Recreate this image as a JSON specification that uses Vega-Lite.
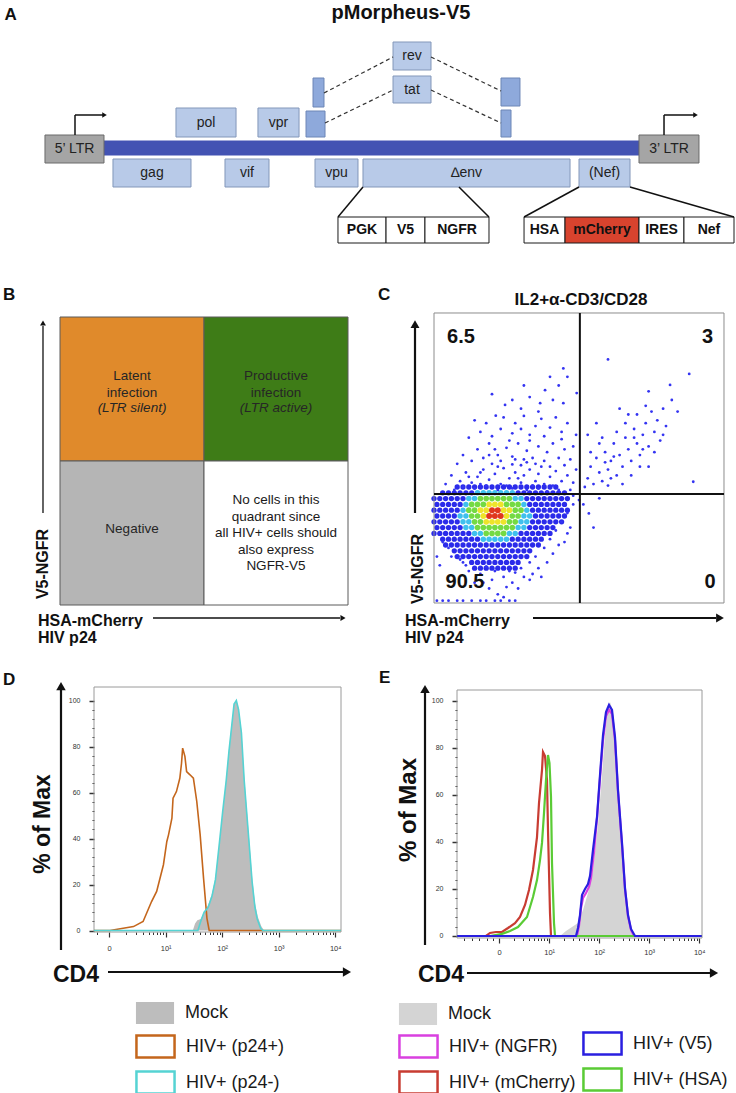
{
"$schema":"https://vega.github.io/schema/vega-lite/v6.json",
"background":"white",
"padding":0,
"spacing":0,
"config":{"view":{"stroke":null},"font":"Liberation Sans","concat":{"spacing":0}},
"resolve":{"scale":{"fill":"independent","stroke":"independent","color":"independent","size":"independent"},"legend":{"fill":"independent","stroke":"independent","color":"independent","size":"independent"}},
"datasets":{
"aBoxes":[
{"n":"","k":"bar","x":14.13,"x2":86.82,"y":38,"y2":43.6},
{"n":"5’ LTR","k":"ltr","x":6.11,"x2":14.13,"y":34.8,"y2":46},
{"n":"3’ LTR","k":"ltr","x":86.82,"x2":94.97,"y":34.8,"y2":46},
{"n":"pol","k":"gene","x":23.91,"x2":32.07,"y":45.2,"y2":56.8},
{"n":"vpr","k":"gene","x":35.05,"x2":40.63,"y":45.2,"y2":56.8},
{"n":"","k":"exon","x":41.58,"x2":44.16,"y":45.2,"y2":55.6},
{"n":"","k":"exon","x":42.53,"x2":44.02,"y":57.2,"y2":68.8},
{"n":"gag","k":"gene","x":15.35,"x2":25.95,"y":25.2,"y2":36.4},
{"n":"vif","k":"gene","x":30.57,"x2":36.55,"y":25.2,"y2":36.4},
{"n":"vpu","k":"gene","x":42.8,"x2":48.64,"y":25.2,"y2":36.4},
{"n":"∆env","k":"gene","x":49.32,"x2":77.45,"y":25.2,"y2":36.4},
{"n":"(Nef)","k":"gene","x":78.67,"x2":85.6,"y":25.2,"y2":36.4},
{"n":"rev","k":"gene","x":53.4,"x2":58.56,"y":72,"y2":83.2},
{"n":"tat","k":"gene","x":53.4,"x2":58.56,"y":58.8,"y2":69.6},
{"n":"","k":"exon","x":68.07,"x2":70.65,"y":57.6,"y2":68.8},
{"n":"","k":"exon","x":68.07,"x2":69.43,"y":45.2,"y2":56},
{"n":"PGK","k":"inset","x":45.92,"x2":52.45,"y":2.8,"y2":13.2},
{"n":"V5","k":"inset","x":52.45,"x2":57.74,"y":2.8,"y2":13.2},
{"n":"NGFR","k":"inset","x":57.74,"x2":66.44,"y":2.8,"y2":13.2},
{"n":"HSA","k":"inset","x":71.2,"x2":76.77,"y":2.8,"y2":13.2},
{"n":"mCherry","k":"red","x":76.77,"x2":86.82,"y":2.8,"y2":13.2},
{"n":"IRES","k":"inset","x":86.82,"x2":92.93,"y":2.8,"y2":13.2},
{"n":"Nef","k":"inset","x":92.93,"x2":99.73,"y":2.8,"y2":13.2}
],
"aSeg":[
{"k":"dash","x":44.02,"y":62.8,"x2":53.4,"y2":77.2},
{"k":"dash","x":58.56,"y":77.2,"x2":68.07,"y2":63.6},
{"k":"dash","x":44.16,"y":50.8,"x2":53.4,"y2":64},
{"k":"dash","x":58.56,"y":64,"x2":68.07,"y2":50.8},
{"k":"zoom","x":49.32,"y":25.2,"x2":45.92,"y2":13.2},
{"k":"zoom","x":62.36,"y":25.2,"x2":66.44,"y2":13.2},
{"k":"zoom","x":78.67,"y":25.2,"x2":71.2,"y2":13.2},
{"k":"zoom","x":85.6,"y":25.2,"x2":99.73,"y2":13.2},
{"k":"prom","x":10.19,"y":46,"x2":10.19,"y2":54},
{"k":"prom","x":10.19,"y":54,"x2":14.0,"y2":54},
{"k":"prom","x":90.22,"y":46,"x2":90.22,"y2":54},
{"k":"prom","x":90.22,"y":54,"x2":94.3,"y2":54}
],
"bQuad":[
{"q":"latent","x":0,"x2":1,"y":1,"y2":2,"l":["Latent","infection"],"i":"(LTR silent)"},
{"q":"productive","x":1,"x2":2,"y":1,"y2":2,"l":["Productive","infection"],"i":"(LTR active)"},
{"q":"negative","x":0,"x2":1,"y":0,"y2":1,"l":["Negative"]},
{"q":"none","x":1,"x2":2,"y":0,"y2":1,"l":["No cells in this","quadrant since","all HIV+ cells should","also express","NGFR-V5"]}
],
"cCore":[
{"y":40,"d":0,"x":[8,10,12,14,16,18,20,22,24,26,28,30,32,34,36,38,40,42]},
{"y":38,"d":0,"x":[3,5,7,9,11,13,29,31,33,35,37,39,41,43,45]},
{"y":36,"d":0,"x":[0,2,4,6,8,10,32,34,36,38,40,42,44,46]},
{"y":34,"d":0,"x":[1,3,5,7,9,33,35,37,39,41,43,45]},
{"y":32,"d":0,"x":[0,2,4,6,8,34,36,38,40,42,44,46]},
{"y":30,"d":0,"x":[1,3,5,7,35,37,39,41,43,45]},
{"y":28,"d":0,"x":[0,2,4,6,8,34,36,38,40,42,44]},
{"y":26,"d":0,"x":[1,3,5,7,9,33,35,37,39,41]},
{"y":24,"d":0,"x":[0,2,4,6,8,10,12,30,32,34,36,38,40]},
{"y":22,"d":0,"x":[3,5,7,9,11,13,15,27,29,31,33,35,37]},
{"y":20,"d":0,"x":[4,6,8,10,12,14,16,18,20,22,24,26,28,30,32,34,36]},
{"y":18,"d":0,"x":[7,9,11,13,15,17,19,21,23,25,27,29,31,33]},
{"y":16,"d":0,"x":[8,10,12,14,16,18,20,22,24,26,28,30,32]},
{"y":14,"d":0,"x":[13,15,17,19,21,23,25,27,29]},
{"y":12,"d":0,"x":[14,16,18,20,22,24,26,28]},
{"y":38,"d":1,"x":[15,17,19,21,23,25,27]},
{"y":36,"d":1,"x":[12,14,28,30]},
{"y":34,"d":1,"x":[11,31]},
{"y":32,"d":1,"x":[10,32]},
{"y":30,"d":1,"x":[9,11,31,33]},
{"y":28,"d":1,"x":[10,12,30,32]},
{"y":26,"d":1,"x":[11,13,29,31]},
{"y":24,"d":1,"x":[14,16,26,28]},
{"y":22,"d":1,"x":[17,19,21,23,25]},
{"y":36,"d":2,"x":[16,18,20,22,24,26]},
{"y":34,"d":2,"x":[13,15,17,25,27,29]},
{"y":32,"d":2,"x":[12,14,28,30]},
{"y":30,"d":2,"x":[13,15,27,29]},
{"y":28,"d":2,"x":[14,16,26,28]},
{"y":26,"d":2,"x":[15,17,19,21,23,25,27]},
{"y":24,"d":2,"x":[18,20,22,24]},
{"y":34,"d":3,"x":[19,21,23]},
{"y":32,"d":3,"x":[16,18,24,26]},
{"y":30,"d":3,"x":[17,25]},
{"y":28,"d":3,"x":[18,20,22,24]},
{"y":32,"d":4,"x":[20,22]},
{"y":30,"d":4,"x":[19,21,23]}
],
"cDots":[
{"g":"ul","x":[4,6,9,11,13,15,17,19,21,23,24,26,28,30,31,33,35,36,38,40,42,44,46,48,49,12,18,25,29,34,37,41,45,27,20,8,10,13,15,17,19,22,23,25,27,29,31,32,34,36,38,39,41,43,45,47,48,30,35,40,21,26,33,44,12,16,18,20,23,24,27,28,30,31,33,35,37,38,40,42,44,46,49,21.3,36,14,24.5,27,30,33,36.6,38.3,41,44.6,43,49.2,46,44.6,20,31,40,7,10,14,16,22,27,32,36,39,43,47,16,22,32,28,19],
"y":[41,44,42,45,41.5,43.5,46,42.5,44.5,41,46.5,43,45,41.5,44,46,42,44.5,41,43.5,45.5,42,44,41.5,46,43.5,40.5,40.5,43,40.5,47,40.5,47.5,47.8,48,48,51,49,53,50,55,51,49,53.5,50.5,55,49.5,52.5,50,54,49,52,55,50,53,49.5,54,47.5,48,47,53,56,56,56.5,57,59,62,57.5,60,64,58.5,62,60,64.5,58,61,63.5,57.5,60.5,64,59,62,58,64.6,66,63,68.3,70,67,71,68.9,73.4,70,68.9,75,72.4,78,80.9,72,75,78,39,40,39.5,41,39,39.5,39,39.5,38.5,39,39,45,47,48.5,49.5,51]},
{"g":"ur","x":[52,53,55,57,54,56,58,60,59,61,63,62,64,65,66,67,68,69,70,71,72,73,74,75,76,77,78,79,80,66,63,57,54,60,68,74,70,64,56,53,58,73,61,65,59,62,71,76,69,67,79,72,60,88,81.4,74,89.4,84,82],
"y":[40,43,41,45,47,50,42,46,52,49,44,55,51,47,57,53,49,60,55,51,58,62,54,66,59,63,56,67,61,62,59,55,52,40.5,44,47,65,67,62,58,57,68,43,41,48.5,50.5,47,52,57,65,58,53,84,79,75.2,73,41.8,66,70]},
{"g":"lr","x":[53.4,57,51.5,55],"y":[30.9,36.1,34,26]},
{"g":"ll","x":[16,20,24,27,19,22,26,30,12,10,33,35,38,40,42,44,46,48,47,45,41,36,31,14,18,29,24,5,3,6,9,11,1,2,48,50,46,43,39,34,21,28,17,33,25,37],
"y":[10,8,9,7,5,3,11,12,11,14,14,16,19,22,25,28,31,34,26,21,17,12,9,7,12.5,5,2,19,21,16,15,13,16,13,37,35.5,24,20,14,10,11,10.5,7,8,5.5,9]},
{"g":"edge","x":[1,3,5,8,10,13,16,18,21,23,26,28],"y":[0.8,0.8,0.8,0.8,0.8,0.8,0.8,0.8,0.8,0.8,0.8,0.8]}
],
"dHist":[
{"s":"Mock","u":[-0.27,1.48,1.52,1.56,1.62,1.68,1.75,1.82,1.88,1.95,2.01,2.07,2.12,2.16,2.21,2.25,2.29,2.34,2.39,2.46,2.53,2.58,2.63,2.69,2.74,4.1],
"y":[0,0,3,4.5,5,8,11,16,23,38,52,66,79,88,98.5,100,96.5,87,67,45,23,12,6,2,0,0]},
{"s":"HIV+ (p24+)","u":[-0.27,0.014,0.43,0.6,0.75,0.84,0.96,1.02,1.05,1.11,1.13,1.19,1.25,1.28,1.3,1.34,1.37,1.43,1.49,1.55,1.61,1.67,1.73,1.77,4.1],
"y":[0,0,1.7,3.9,12.6,17,28.6,38.7,41.6,48.8,57.5,60.4,66.2,72.7,79.3,75.7,69.1,67.7,66.2,56.1,41.6,22.7,5.3,0,0]},
{"s":"HIV+ (p24-)","u":[-0.27,1.57,1.62,1.68,1.75,1.82,1.88,1.95,2.01,2.07,2.12,2.16,2.21,2.25,2.29,2.34,2.39,2.46,2.53,2.58,2.62,2.68,2.72,4.1],
"y":[0,0,4,8,10,15,22,38,52,65,78,87,98.5,100,96,86,65,43,21,10,5,1,0,0]}
],
"eHist":[
{"s":"Mock","u":[-0.84,1.216,1.336,1.456,1.576,1.676,1.776,1.876,1.976,2.056,2.116,2.176,2.216,2.256,2.316,2.376,2.456,2.516,2.576,2.656,2.736,4.05],
"y":[0,0,2.1,3.8,5.5,11.1,18.3,28.1,47.2,68.5,85.5,97.9,99.6,97,84.3,60,37.9,20.4,7.7,1.7,0,0]},
{"s":"HIV+ (mCherry)","u":[-0.84,-0.264,-0.184,-0.064,0.056,0.176,0.316,0.416,0.516,0.596,0.676,0.756,0.796,0.856,0.876,0.916,0.956,0.976,1.016,1.036,4.05],
"y":[0,0,1.3,1.7,1.7,3.4,5.5,8.1,13.2,19.6,28.1,42.1,56.6,70.6,78.3,76.6,66.4,45.1,9.8,0,0]},
{"s":"HIV+ (NGFR)","u":[-0.84,1.556,1.596,1.636,1.676,1.736,1.796,1.836,1.896,1.956,2.016,2.076,2.136,2.196,2.256,2.316,2.376,2.456,2.516,2.576,2.636,2.696,4.05],
"y":[0,0,4.3,11.9,16.2,18.3,20.9,24.7,35.7,50.2,67.2,83.4,93.6,96.2,94.5,83.4,61.3,38.7,20,8.5,2.6,0,0]},
{"s":"HIV+ (HSA)","u":[-0.84,-0.184,0.056,0.216,0.376,0.556,0.676,0.756,0.816,0.856,0.896,0.936,0.976,1.006,1.036,1.056,1.096,1.116,4.05],
"y":[0,0,0.9,2.1,3.8,8.1,16.6,23.8,32.3,39.6,52.3,66.4,77,73.6,59.1,31.1,5.5,0,0]},
{"s":"HIV+ (V5)","u":[-0.84,1.536,1.576,1.616,1.656,1.716,1.776,1.816,1.876,1.956,2.016,2.076,2.136,2.196,2.256,2.316,2.376,2.456,2.516,2.576,2.636,2.716,4.05],
"y":[0,0,3.4,8.9,17.4,20,22.1,25.5,36.6,50.6,68.5,85.5,95.3,98.3,96.2,84.7,62.1,39.6,20.4,8.9,3,0,0]}
]
},
"vconcat":[
{"width":736,"height":250,"data":{"values":[{}]},
"layer":[
{"data":{"name":"aBoxes"},"mark":{"type":"rect","strokeWidth":1},
"encoding":{"x":{"field":"x","type":"quantitative","scale":{"domain":[0,100],"nice":false,"zero":false},"axis":null},"x2":{"field":"x2"},
"y":{"field":"y","type":"quantitative","scale":{"domain":[0,100],"nice":false,"zero":false},"axis":null},"y2":{"field":"y2"},
"fill":{"field":"k","type":"nominal","scale":{"domain":["bar","ltr","gene","exon","inset","red"],"range":["#4353B3","#A5A5A5","#B8CAE8","#8EA9DB","#FFFFFF","#D8432E"]},"legend":null},
"stroke":{"field":"k","type":"nominal","scale":{"domain":["bar","ltr","gene","exon","inset","red"],"range":["#4353B3","#6A6A6A","#8397B9","#6C86B6","#1A1A1A","#1A1A1A"]},"legend":null}}},
{"data":{"name":"aSeg"},"transform":[{"filter":"datum.k === 'dash'"}],"mark":{"type":"rule","strokeDash":[4,3],"strokeWidth":1.2,"color":"#333333"},
"encoding":{"x":{"field":"x","type":"quantitative","axis":null},"y":{"field":"y","type":"quantitative","axis":null},"x2":{"field":"x2"},"y2":{"field":"y2"}}},
{"data":{"name":"aSeg"},"transform":[{"filter":"datum.k !== 'dash'"}],"mark":{"type":"rule","strokeWidth":1.5,"color":"#111111"},
"encoding":{"x":{"field":"x","type":"quantitative","axis":null},"y":{"field":"y","type":"quantitative","axis":null},"x2":{"field":"x2"},"y2":{"field":"y2"}}},
{"mark":{"type":"point","shape":"triangle-right","filled":true,"size":28,"color":"#111111","opacity":1},"encoding":{"x":{"datum":14.2,"axis":null},"y":{"datum":54,"axis":null}}},
{"mark":{"type":"point","shape":"triangle-right","filled":true,"size":28,"color":"#111111","opacity":1},"encoding":{"x":{"datum":94.5,"axis":null},"y":{"datum":54,"axis":null}}},
{"data":{"name":"aBoxes"},"transform":[{"filter":"datum.k === 'gene' || datum.k === 'ltr'"},{"fold":["x","x2"],"as":["kx","vx"]},{"fold":["y","y2"],"as":["ky","vy"]},{"aggregate":[{"op":"mean","field":"vx","as":"cx"},{"op":"mean","field":"vy","as":"cy"}],"groupby":["n","k"]}],
"mark":{"type":"text","fontSize":14,"color":"#222222","baseline":"middle","align":"center"},
"encoding":{"x":{"field":"cx","type":"quantitative","axis":null},"y":{"field":"cy","type":"quantitative","axis":null},"text":{"field":"n"}}},
{"data":{"name":"aBoxes"},"transform":[{"filter":"datum.k === 'inset' || datum.k === 'red'"},{"fold":["x","x2"],"as":["kx","vx"]},{"fold":["y","y2"],"as":["ky","vy"]},{"aggregate":[{"op":"mean","field":"vx","as":"cx"},{"op":"mean","field":"vy","as":"cy"}],"groupby":["n","k"]}],
"mark":{"type":"text","fontSize":14,"fontWeight":"bold","color":"#111111","baseline":"middle","align":"center"},
"encoding":{"x":{"field":"cx","type":"quantitative","axis":null},"y":{"field":"cy","type":"quantitative","axis":null},"text":{"field":"n"}}},
{"mark":{"type":"text","text":"pMorpheus-V5","fontSize":20,"fontWeight":"bold","align":"center","baseline":"alphabetic","color":"#111111"},"encoding":{"x":{"datum":54.48,"axis":null},"y":{"datum":92.4,"axis":null}}},
{"mark":{"type":"text","text":"A","fontSize":17,"fontWeight":"bold","align":"left","baseline":"alphabetic","color":"#111111"},"encoding":{"x":{"datum":0.6,"axis":null},"y":{"datum":92,"axis":null}}}
]},
{"hconcat":[
{"width":375,"height":400,"data":{"values":[{}]},
"layer":[
{"data":{"name":"bQuad"},"mark":{"type":"rect","stroke":"#5a5a5a","strokeWidth":1},
"encoding":{"x":{"field":"x","type":"quantitative","scale":{"domain":[-0.41667,2.1875],"nice":false,"zero":false},"axis":null},"x2":{"field":"x2"},
"y":{"field":"y","type":"quantitative","scale":{"domain":[-0.3125,2.46528],"nice":false,"zero":false},"axis":null},"y2":{"field":"y2"},
"fill":{"field":"q","type":"nominal","scale":{"domain":["latent","productive","negative","none"],"range":["#E08A2B","#3E7C17","#B5B5B5","#FFFFFF"]},"legend":null}}},
{"data":{"name":"bQuad"},
"transform":[{"fold":["x","x2"],"as":["kx","vx"]},{"fold":["y","y2"],"as":["ky","vy"]},{"aggregate":[{"op":"mean","field":"vx","as":"cx"},{"op":"mean","field":"vy","as":"cy"}],"groupby":["q"]},{"lookup":"q","from":{"data":{"name":"bQuad"},"key":"q","fields":["l","i"]}}],
"layer":[
{"transform":[{"filter":"datum.q === 'latent' || datum.q === 'productive'"}],"mark":{"type":"text","fontSize":13.5,"lineHeight":16.5,"dy":-13,"baseline":"middle","align":"center","color":"#262626"},
"encoding":{"x":{"field":"cx","type":"quantitative","axis":null},"y":{"field":"cy","type":"quantitative","axis":null},"text":{"field":"l"}}},
{"transform":[{"filter":"datum.q === 'latent' || datum.q === 'productive'"}],"mark":{"type":"text","fontSize":13.5,"fontStyle":"italic","dy":19,"baseline":"middle","align":"center","color":"#262626"},
"encoding":{"x":{"field":"cx","type":"quantitative","axis":null},"y":{"field":"cy","type":"quantitative","axis":null},"text":{"field":"i"}}},
{"transform":[{"filter":"datum.q === 'negative'"}],"mark":{"type":"text","fontSize":13.5,"dy":-4,"baseline":"middle","align":"center","color":"#262626"},
"encoding":{"x":{"field":"cx","type":"quantitative","axis":null},"y":{"field":"cy","type":"quantitative","axis":null},"text":{"field":"l"}}},
{"transform":[{"filter":"datum.q === 'none'"}],"mark":{"type":"text","fontSize":13.5,"lineHeight":16.5,"dy":-33,"baseline":"middle","align":"center","color":"#1A1A1A"},
"encoding":{"x":{"field":"cx","type":"quantitative","axis":null},"y":{"field":"cy","type":"quantitative","axis":null},"text":{"field":"l"}}}
]},
{"mark":{"type":"rule","strokeWidth":1.3,"color":"#111111"},"encoding":{"x":{"datum":-0.1181,"axis":null},"y":{"datum":0.6389,"axis":null},"y2":{"datum":1.9375}}},
{"mark":{"type":"point","shape":"triangle-up","filled":true,"size":35,"color":"#111111","opacity":1},"encoding":{"x":{"datum":-0.1181,"axis":null},"y":{"datum":1.9583,"axis":null}}},
{"mark":{"type":"rule","strokeWidth":1.3,"color":"#111111"},"encoding":{"x":{"datum":0.6458,"axis":null},"x2":{"datum":1.9444},"y":{"datum":-0.0903,"axis":null}}},
{"mark":{"type":"point","shape":"triangle-right","filled":true,"size":35,"color":"#111111","opacity":1},"encoding":{"x":{"datum":1.9653,"axis":null},"y":{"datum":-0.0903,"axis":null}}},
{"mark":{"type":"text","text":"B","fontSize":17,"fontWeight":"bold","align":"left","baseline":"alphabetic","color":"#111111"},"encoding":{"x":{"datum":-0.3958,"axis":null},"y":{"datum":2.118,"axis":null}}},
{"mark":{"type":"text","text":"V5-NGFR","angle":270,"fontSize":16,"fontWeight":"bold","align":"center","baseline":"middle","color":"#111111"},"encoding":{"x":{"datum":-0.1181,"axis":null},"y":{"datum":0.2847,"axis":null}}},
{"mark":{"type":"text","text":"HSA-mCherry","fontSize":16,"fontWeight":"bold","align":"left","baseline":"alphabetic","color":"#111111"},"encoding":{"x":{"datum":-0.1528,"axis":null},"y":{"datum":-0.1458,"axis":null}}},
{"mark":{"type":"text","text":"HIV p24","fontSize":16,"fontWeight":"bold","align":"left","baseline":"alphabetic","color":"#111111"},"encoding":{"x":{"datum":-0.1528,"axis":null},"y":{"datum":-0.2639,"axis":null}}}
]},
{"width":361,"height":400,"data":{"values":[{}]},
"layer":[
{"data":{"name":"cCore"},"transform":[{"flatten":["x"]}],"mark":{"type":"point","filled":true,"shape":"circle","opacity":1,"strokeWidth":0},
"encoding":{"x":{"field":"x","type":"quantitative","scale":{"domain":[-20.345,104.138],"nice":false,"zero":false},"axis":null},
"y":{"field":"y","type":"quantitative","scale":{"domain":[-16.207,121.724],"nice":false,"zero":false},"axis":null},
"color":{"field":"d","type":"nominal","scale":{"domain":[0,1,2,3,4],"range":["#2B2BEA","#3FC0EE","#74DA43","#EEE42A","#E0371E"]},"legend":null},
"size":{"field":"d","type":"nominal","scale":{"domain":[0,1,2,3,4],"range":[28,36,36,36,30]},"legend":null}}},
{"data":{"name":"cDots"},"transform":[{"flatten":["x","y"]}],"mark":{"type":"point","filled":true,"shape":"circle","size":8,"opacity":1,"color":"#3434F2","strokeWidth":0},
"encoding":{"x":{"field":"x","type":"quantitative","axis":null},"y":{"field":"y","type":"quantitative","axis":null}}},
{"mark":{"type":"rect","fillOpacity":0,"stroke":"#8c8c8c","strokeWidth":1},"encoding":{"x":{"datum":0,"axis":null},"x2":{"datum":100},"y":{"datum":0,"axis":null},"y2":{"datum":100}}},
{"mark":{"type":"rule","strokeWidth":2,"color":"#111111"},"encoding":{"x":{"datum":50.3,"axis":null},"y":{"datum":0,"axis":null},"y2":{"datum":100}}},
{"mark":{"type":"rule","strokeWidth":2,"color":"#111111"},"encoding":{"x":{"datum":0,"axis":null},"x2":{"datum":100},"y":{"datum":37.6,"axis":null}}},
{"mark":{"type":"text","text":"6.5","fontSize":20,"fontWeight":"bold","align":"center","baseline":"alphabetic","color":"#111111"},"encoding":{"x":{"datum":9.31,"axis":null},"y":{"datum":89.66,"axis":null}}},
{"mark":{"type":"text","text":"3","fontSize":20,"fontWeight":"bold","align":"center","baseline":"alphabetic","color":"#111111"},"encoding":{"x":{"datum":94.31,"axis":null},"y":{"datum":89.66,"axis":null}}},
{"mark":{"type":"text","text":"90.5","fontSize":20,"fontWeight":"bold","align":"center","baseline":"alphabetic","color":"#111111"},"encoding":{"x":{"datum":10.69,"axis":null},"y":{"datum":5.17,"axis":null}}},
{"mark":{"type":"text","text":"0","fontSize":20,"fontWeight":"bold","align":"center","baseline":"alphabetic","color":"#111111"},"encoding":{"x":{"datum":95.17,"axis":null},"y":{"datum":5.17,"axis":null}}},
{"mark":{"type":"text","text":"IL2+α-CD3/CD28","fontSize":17,"fontWeight":"bold","align":"center","baseline":"alphabetic","color":"#111111"},"encoding":{"x":{"datum":50.69,"axis":null},"y":{"datum":102.76,"axis":null}}},
{"mark":{"type":"text","text":"C","fontSize":17,"fontWeight":"bold","align":"left","baseline":"alphabetic","color":"#111111"},"encoding":{"x":{"datum":-19.31,"axis":null},"y":{"datum":104.48,"axis":null}}},
{"mark":{"type":"rule","strokeWidth":2.2,"color":"#111111"},"encoding":{"x":{"datum":-6.552,"axis":null},"y":{"datum":31.03,"axis":null},"y2":{"datum":95}}},
{"mark":{"type":"point","shape":"triangle-up","filled":true,"size":80,"color":"#111111","opacity":1},"encoding":{"x":{"datum":-6.552,"axis":null},"y":{"datum":96.2,"axis":null}}},
{"mark":{"type":"rule","strokeWidth":2.2,"color":"#111111"},"encoding":{"x":{"datum":34.14,"axis":null},"x2":{"datum":97.24},"y":{"datum":-5.172,"axis":null}}},
{"mark":{"type":"point","shape":"triangle-right","filled":true,"size":80,"color":"#111111","opacity":1},"encoding":{"x":{"datum":98.62,"axis":null},"y":{"datum":-5.172,"axis":null}}},
{"mark":{"type":"text","text":"V5-NGFR","angle":270,"fontSize":16,"fontWeight":"bold","align":"center","baseline":"middle","color":"#111111"},"encoding":{"x":{"datum":-5.517,"axis":null},"y":{"datum":11.72,"axis":null}}},
{"mark":{"type":"text","text":"HSA-mCherry","fontSize":16,"fontWeight":"bold","align":"left","baseline":"alphabetic","color":"#111111"},"encoding":{"x":{"datum":-10,"axis":null},"y":{"datum":-7.93,"axis":null}}},
{"mark":{"type":"text","text":"HIV p24","fontSize":16,"fontWeight":"bold","align":"left","baseline":"alphabetic","color":"#111111"},"encoding":{"x":{"datum":-10,"axis":null},"y":{"datum":-13.79,"axis":null}}}
]}
],"spacing":0,
"resolve":{"scale":{"fill":"independent","stroke":"independent","color":"independent","size":"independent"},"legend":{"fill":"independent","stroke":"independent","color":"independent","size":"independent"}}},
{"hconcat":[
{"width":375,"height":443,"data":{"values":[{}]},
"resolve":{"axis":{"x":"independent","y":"independent"}},
"layer":[
{"mark":{"type":"rect","fillOpacity":0,"stroke":"#9a9a9a","strokeWidth":1},"encoding":{"x":{"datum":-0.269,"axis":null},"x2":{"datum":4.1027},"y":{"datum":-0.65,"axis":null},"y2":{"datum":105.87}}},
{"data":{"name":"dHist"},"transform":[{"flatten":["u","y"]},{"filter":"datum.s === 'Mock'"}],"mark":{"type":"area","opacity":1},
"encoding":{
"x":{"field":"u","type":"quantitative","scale":{"domain":[-1.9327,4.7044],"nice":false,"zero":false},
"axis":{"orient":"bottom","values":[0,1,2,3,4],
"labelExpr":"datum.value === 0 ? '0' : datum.value === 1 ? '10¹' : datum.value === 2 ? '10²' : datum.value === 3 ? '10³' : '10⁴'",
"tickSize":5,"offset":-161,"domain":false,"grid":false,"title":null,"labelFontSize":7.5,"labelColor":"#333333","tickColor":"#333333","tickWidth":1.2,"labelPadding":7,"labelOverlap":false,"labelFlush":false,"labelBound":false}},
"y":{"field":"y","type":"quantitative","stack":null,"scale":{"domain":[-70.65,121.96],"nice":false,"zero":false},
"axis":{"orient":"left","values":[0,20,40,60,80,100],
"tickSize":5,"tickWidth":1.5,"offset":-94,"domain":false,"grid":false,"title":null,"labelFontSize":7,"labelColor":"#333333","tickColor":"#333333","labelPadding":9,"labelOverlap":false,"labelFlush":false,"labelBound":false}},
"fill":{"field":"s","type":"nominal","scale":{"domain":["Mock"],"range":["#BDBDBD"]},
"legend":{"orient":"none","legendX":139,"legendY":347,"title":null,"direction":"vertical","symbolType":"M-1.27,-0.73H1.27V0.73H-1.27Z","symbolSize":900,"labelFontSize":18,"labelColor":"#1A1A1A","labelOffset":14,"padding":0,
"encode":{"symbols":{"update":{"fill":{"value":"#D8D8D8"},"stroke":{"value":"#D8D8D8"},"strokeWidth":{"value":0}}}}}}}},
{"data":{"name":"dHist"},"transform":[{"flatten":["u","y"]},{"filter":"datum.s !== 'Mock'"}],"mark":{"type":"line","strokeWidth":1.6},
"encoding":{"x":{"field":"u","type":"quantitative",
"axis":{"orient":"bottom","values":[-0.22,0.301,0.477,0.602,0.699,0.778,0.845,0.903,0.954,1.301,1.477,1.602,1.699,1.778,1.845,1.903,1.954,2.301,2.477,2.602,2.699,2.778,2.845,2.903,2.954,3.301,3.477,3.602,3.699,3.778,3.845,3.903,3.954],
"labels":false,"tickSize":2.5,"offset":-161,"domain":false,"grid":false,"title":null,"tickColor":"#333333","tickWidth":1}},
"y":{"field":"y","type":"quantitative",
"axis":{"orient":"left","values":[4,8,12,16,24,28,32,36,44,48,52,56,64,68,72,76,84,88,92,96],
"labels":false,"tickSize":2,"offset":-94,"domain":false,"grid":false,"title":null,"tickColor":"#333333","tickWidth":1}},
"stroke":{"field":"s","type":"nominal","scale":{"domain":["HIV+ (p24+)","HIV+ (p24-)"],"range":["#C4661C","#55D3D3"]},
"legend":{"orient":"none","legendX":139,"legendY":380,"title":null,"direction":"vertical","symbolType":"M-1.27,-0.73H1.27V0.73H-1.27Z","symbolSize":900,"symbolStrokeWidth":2.5,"labelFontSize":18,"labelColor":"#1A1A1A","labelOffset":14,"rowPadding":3,"padding":0,
"encode":{"symbols":{"update":{"fill":{"value":"transparent"},"strokeWidth":{"value":2.5}}}}}}}},
{"mark":{"type":"rule","strokeWidth":2.2,"color":"#111111"},"encoding":{"x":{"datum":-0.8531,"axis":null},"y":{"datum":-8.48,"axis":null},"y2":{"datum":105.43}}},
{"mark":{"type":"point","shape":"triangle-up","filled":true,"size":90,"color":"#111111","opacity":1},"encoding":{"x":{"datum":-0.8531,"axis":null},"y":{"datum":106.3,"axis":null}}},
{"mark":{"type":"rule","strokeWidth":2.2,"color":"#111111"},"encoding":{"x":{"datum":-0.0212,"axis":null},"x2":{"datum":4.1558},"y":{"datum":-18.04,"axis":null}}},
{"mark":{"type":"point","shape":"triangle-right","filled":true,"size":90,"color":"#111111","opacity":1},"encoding":{"x":{"datum":4.208,"axis":null},"y":{"datum":-18.04,"axis":null}}},
{"mark":{"type":"text","text":"D","fontSize":17,"fontWeight":"bold","align":"left","baseline":"alphabetic","color":"#111111"},"encoding":{"x":{"datum":-1.8797,"axis":null},"y":{"datum":106.74,"axis":null}}},
{"mark":{"type":"text","text":"% of Max","angle":270,"fontSize":23,"fontWeight":"bold","align":"center","baseline":"middle","color":"#111111"},"encoding":{"x":{"datum":-1.1717,"axis":null},"y":{"datum":46.3,"axis":null}}},
{"mark":{"type":"text","text":"CD4","fontSize":23,"fontWeight":"bold","align":"left","baseline":"alphabetic","color":"#111111"},"encoding":{"x":{"datum":-0.9947,"axis":null},"y":{"datum":-22.39,"axis":null}}}
]},
{"width":361,"height":443,"data":{"values":[{}]},
"resolve":{"axis":{"x":"independent","y":"independent"}},
"layer":[
{"mark":{"type":"rect","fillOpacity":0,"stroke":"#9a9a9a","strokeWidth":1},"encoding":{"x":{"datum":-0.844,"axis":null},"x2":{"datum":4.056},"y":{"datum":-0.851,"axis":null},"y2":{"datum":104.68}}},
{"data":{"name":"eHist"},"transform":[{"flatten":["u","y"]},{"filter":"datum.s === 'Mock'"}],"mark":{"type":"area","opacity":1},
"encoding":{
"x":{"field":"u","type":"quantitative","scale":{"domain":[-2.484,4.736],"nice":false,"zero":false},
"axis":{"orient":"bottom","values":[0,1,2,3,4],
"labelExpr":"datum.value === 0 ? '0' : datum.value === 1 ? '10¹' : datum.value === 2 ? '10²' : datum.value === 3 ? '10³' : '10⁴'",
"tickSize":5,"offset":-155,"domain":false,"grid":false,"title":null,"labelFontSize":7.5,"labelColor":"#333333","tickColor":"#333333","tickWidth":1.2,"labelPadding":5,"labelOverlap":false,"labelFlush":false,"labelBound":false}},
"y":{"field":"y","type":"quantitative","stack":null,"scale":{"domain":[-66.809,121.702],"nice":false,"zero":false},
"axis":{"orient":"left","values":[0,20,40,60,80,100],
"tickSize":5,"tickWidth":1.5,"offset":-82,"domain":false,"grid":false,"title":null,"labelFontSize":7,"labelColor":"#333333","tickColor":"#333333","labelPadding":9,"labelOverlap":false,"labelFlush":false,"labelBound":false}},
"fill":{"field":"s","type":"nominal","scale":{"domain":["Mock"],"range":["#D4D4D4"]},
"legend":{"orient":"none","legendX":27,"legendY":348,"title":null,"direction":"vertical","symbolType":"M-1.27,-0.73H1.27V0.73H-1.27Z","symbolSize":900,"labelFontSize":18,"labelColor":"#1A1A1A","labelOffset":14,"padding":0,
"encode":{"symbols":{"update":{"fill":{"value":"#C8C8C8"},"stroke":{"value":"#C8C8C8"},"strokeWidth":{"value":0}}}}}}}},
{"data":{"name":"eHist"},"transform":[{"flatten":["u","y"]},{"filter":"datum.s === 'HIV+ (NGFR)' || datum.s === 'HIV+ (mCherry)'"}],"mark":{"type":"line","strokeWidth":2.2},
"encoding":{"x":{"field":"u","type":"quantitative",
"axis":{"orient":"bottom","values":[-0.7,-0.55,-0.4,-0.25,-0.12,0.301,0.477,0.602,0.699,0.778,0.845,0.903,0.954,1.301,1.477,1.602,1.699,1.778,1.845,1.903,1.954,2.301,2.477,2.602,2.699,2.778,2.845,2.903,2.954,3.301,3.477,3.602,3.699,3.778,3.845,3.903,3.954],
"labels":false,"tickSize":2.5,"offset":-155,"domain":false,"grid":false,"title":null,"tickColor":"#333333","tickWidth":1}},
"y":{"field":"y","type":"quantitative",
"axis":{"orient":"left","values":[4,8,12,16,24,28,32,36,44,48,52,56,64,68,72,76,84,88,92,96],
"labels":false,"tickSize":2,"offset":-82,"domain":false,"grid":false,"title":null,"tickColor":"#333333","tickWidth":1}},
"stroke":{"field":"s","type":"nominal","scale":{"domain":["HIV+ (NGFR)","HIV+ (mCherry)"],"range":["#D940E0","#C83C32"]},
"legend":{"orient":"none","legendX":27,"legendY":380,"title":null,"direction":"vertical","symbolType":"M-1.27,-0.73H1.27V0.73H-1.27Z","symbolSize":900,"symbolStrokeWidth":2.5,"labelFontSize":18,"labelColor":"#1A1A1A","labelOffset":14,"rowPadding":3,"padding":0,
"encode":{"symbols":{"update":{"fill":{"value":"transparent"},"strokeWidth":{"value":2.5}}}}}}}},
{"data":{"name":"eHist"},"transform":[{"flatten":["u","y"]},{"filter":"datum.s === 'HIV+ (V5)' || datum.s === 'HIV+ (HSA)'"}],"mark":{"type":"line","strokeWidth":2.2},
"encoding":{"x":{"field":"u","type":"quantitative","axis":null},"y":{"field":"y","type":"quantitative","axis":null},
"color":{"field":"s","type":"nominal","scale":{"domain":["HIV+ (V5)","HIV+ (HSA)"],"range":["#2A1FE0","#5ACB35"]},
"legend":{"orient":"none","legendX":211,"legendY":377,"title":null,"direction":"vertical","symbolType":"M-1.27,-0.73H1.27V0.73H-1.27Z","symbolSize":900,"symbolStrokeWidth":2.5,"labelFontSize":18,"labelColor":"#1A1A1A","labelOffset":14,"rowPadding":3,"padding":0,
"encode":{"symbols":{"update":{"fill":{"value":"transparent"},"strokeWidth":{"value":2.5}}}}}}}},
{"mark":{"type":"rule","strokeWidth":2.2,"color":"#111111"},"encoding":{"x":{"datum":-1.484,"axis":null},"y":{"datum":-3.83,"axis":null},"y2":{"datum":104.26}}},
{"mark":{"type":"point","shape":"triangle-up","filled":true,"size":90,"color":"#111111","opacity":1},"encoding":{"x":{"datum":-1.484,"axis":null},"y":{"datum":105.1,"axis":null}}},
{"mark":{"type":"rule","strokeWidth":2.2,"color":"#111111"},"encoding":{"x":{"datum":-0.644,"axis":null},"x2":{"datum":4.236},"y":{"datum":-15.74,"axis":null}}},
{"mark":{"type":"point","shape":"triangle-right","filled":true,"size":90,"color":"#111111","opacity":1},"encoding":{"x":{"datum":4.296,"axis":null},"y":{"datum":-15.74,"axis":null}}},
{"mark":{"type":"text","text":"E","fontSize":17,"fontWeight":"bold","align":"left","baseline":"alphabetic","color":"#111111"},"encoding":{"x":{"datum":-2.404,"axis":null},"y":{"datum":107.66,"axis":null}}},
{"mark":{"type":"text","text":"% of Max","angle":270,"fontSize":24,"fontWeight":"bold","align":"center","baseline":"middle","color":"#111111"},"encoding":{"x":{"datum":-1.804,"axis":null},"y":{"datum":53.62,"axis":null}}},
{"mark":{"type":"text","text":"CD4","fontSize":23,"fontWeight":"bold","align":"left","baseline":"alphabetic","color":"#111111"},"encoding":{"x":{"datum":-1.624,"axis":null},"y":{"datum":-19.57,"axis":null}}}
]}
],"spacing":0,
"resolve":{"scale":{"fill":"independent","stroke":"independent","color":"independent","size":"independent"},"legend":{"fill":"independent","stroke":"independent","color":"independent","size":"independent"}}}
]
}
